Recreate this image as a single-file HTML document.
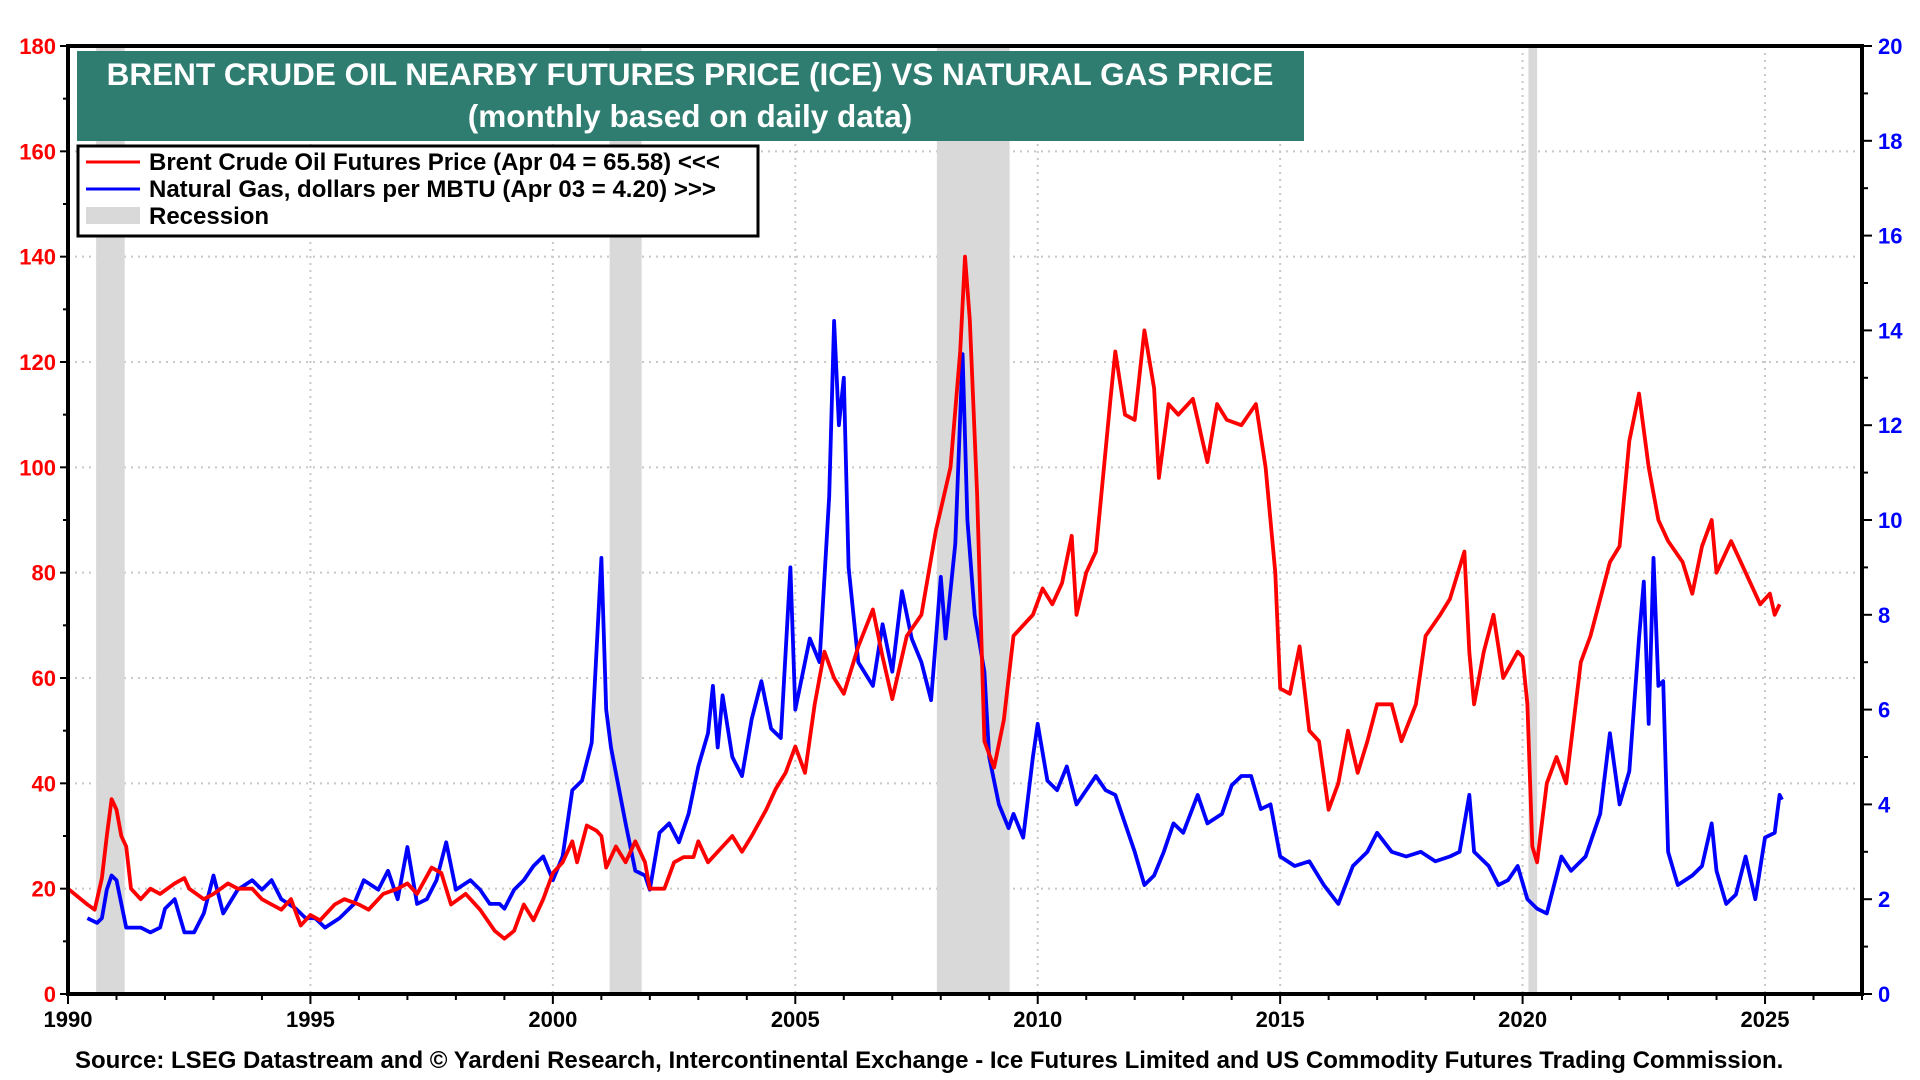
<!DOCTYPE html>
<html><head><meta charset="utf-8"><style>
html,body{margin:0;padding:0;background:#fff;}
svg{display:block;font-family:"Liberation Sans",Arial,sans-serif;}
</style></head><body>
<svg id="chart" width="1920" height="1080" viewBox="0 0 1920 1080" xmlns="http://www.w3.org/2000/svg">
<g id="grid"></g>
<g id="recessions"></g>
<g id="series"></g>
<g id="axes"></g>
<rect x="77" y="51" width="1227" height="90" fill="#2e7d70"/>
<text x="690" y="85" text-anchor="middle" font-size="31.5" font-weight="bold" fill="#fff">BRENT CRUDE OIL NEARBY FUTURES PRICE (ICE) VS NATURAL GAS PRICE</text>
<text x="690" y="127" text-anchor="middle" font-size="31.5" font-weight="bold" fill="#fff">(monthly based on daily data)</text>
<g>
<rect x="78" y="146" width="680" height="90" fill="#fff" stroke="#000" stroke-width="3"/>
<line x1="86" y1="162" x2="140" y2="162" stroke="#f00" stroke-width="3"/>
<text x="149" y="170" font-size="24" font-weight="bold">Brent Crude Oil Futures Price (Apr 04 = 65.58) &lt;&lt;&lt;</text>
<line x1="86" y1="189" x2="140" y2="189" stroke="#00f" stroke-width="3"/>
<text x="149" y="197" font-size="24" font-weight="bold">Natural Gas, dollars per MBTU (Apr 03 = 4.20) &gt;&gt;&gt;</text>
<rect x="86" y="207" width="54" height="17" fill="#d9d9d9"/>
<text x="149" y="224" font-size="24" font-weight="bold">Recession</text>
</g>
<text x="75" y="1068" font-size="24" font-weight="bold">Source: LSEG Datastream and © Yardeni Research, Intercontinental Exchange - Ice Futures Limited and US Commodity Futures Trading Commission.</text>
</svg>
<script>
const recessionStarts=[1990.58,2001.17,2007.92,2020.12];
const recessionEnds=[1991.17,2001.83,2009.42,2020.3];
const xTickYears=[1990,1995,2000,2005,2010,2015,2020,2025];
const leftTicks=[0,20,40,60,80,100,120,140,160,180];
const rightTicks=[0,2,4,6,8,10,12,14,16,18,20];
const oilDates=[1990.0,1990.4,1990.55,1990.7,1990.8,1990.9,1991.0,1991.1,1991.2,1991.3,1991.5,1991.7,1991.9,1992.2,1992.4,1992.5,1992.8,1993.0,1993.3,1993.5,1993.8,1994.0,1994.2,1994.4,1994.6,1994.8,1995.0,1995.2,1995.5,1995.7,1996.0,1996.2,1996.5,1996.8,1997.0,1997.2,1997.5,1997.7,1997.9,1998.2,1998.5,1998.8,1999.0,1999.2,1999.4,1999.6,1999.8,2000.0,2000.2,2000.4,2000.5,2000.7,2000.9,2001.0,2001.1,2001.3,2001.5,2001.7,2001.9,2002.0,2002.3,2002.5,2002.7,2002.9,2003.0,2003.2,2003.5,2003.7,2003.9,2004.1,2004.4,2004.6,2004.8,2005.0,2005.2,2005.4,2005.6,2005.8,2006.0,2006.3,2006.6,2006.8,2007.0,2007.3,2007.6,2007.9,2008.0,2008.2,2008.4,2008.5,2008.6,2008.75,2008.9,2009.1,2009.3,2009.5,2009.7,2009.9,2010.1,2010.3,2010.5,2010.7,2010.8,2011.0,2011.2,2011.5,2011.6,2011.8,2012.0,2012.2,2012.4,2012.5,2012.7,2012.9,2013.2,2013.5,2013.7,2013.9,2014.2,2014.5,2014.7,2014.9,2015.0,2015.2,2015.4,2015.6,2015.8,2016.0,2016.2,2016.4,2016.6,2016.8,2017.0,2017.3,2017.5,2017.8,2018.0,2018.3,2018.5,2018.8,2018.9,2019.0,2019.2,2019.4,2019.6,2019.9,2020.0,2020.1,2020.2,2020.3,2020.5,2020.7,2020.9,2021.2,2021.4,2021.6,2021.8,2022.0,2022.2,2022.4,2022.6,2022.8,2023.0,2023.3,2023.5,2023.7,2023.9,2024.0,2024.3,2024.5,2024.7,2024.9,2025.0,2025.1,2025.2,2025.3];
const oilValues=[20,17,16,22,30,37,35,30,28,20,18,20,19,21,22,20,18,19,21,20,20,18,17,16,18,13,15,14,17,18,17,16,19,20,21,19,24,23,17,19,16,12,10.5,12,17,14,18,23,25,29,25,32,31,30,24,28,25,29,25,20,20,25,26,26,29,25,28,30,27,30,35,39,42,47,42,55,65,60,57,66,73,64,56,68,72,88,92,100,122,140,128,95,48,43,52,68,70,72,77,74,78,87,72,80,84,113,122,110,109,126,115,98,112,110,113,101,112,109,108,112,100,80,58,57,66,50,48,35,40,50,42,48,55,55,48,55,68,72,75,84,65,55,65,72,60,65,64,55,28,25,40,45,40,63,68,75,82,85,105,114,100,90,86,82,76,85,90,80,86,82,78,74,75,76,72,74];
const gasDates=[1990.4,1990.6,1990.7,1990.8,1990.9,1991.0,1991.2,1991.5,1991.7,1991.9,1992.0,1992.2,1992.4,1992.6,1992.8,1993.0,1993.2,1993.5,1993.8,1994.0,1994.2,1994.4,1994.7,1994.9,1995.1,1995.3,1995.6,1995.9,1996.1,1996.4,1996.6,1996.8,1997.0,1997.2,1997.4,1997.6,1997.8,1998.0,1998.3,1998.5,1998.7,1998.9,1999.0,1999.2,1999.4,1999.6,1999.8,2000.0,2000.2,2000.4,2000.6,2000.8,2001.0,2001.1,2001.2,2001.5,2001.7,2001.9,2002.0,2002.2,2002.4,2002.6,2002.8,2003.0,2003.2,2003.3,2003.4,2003.5,2003.7,2003.9,2004.1,2004.3,2004.5,2004.7,2004.9,2005.0,2005.3,2005.5,2005.7,2005.8,2005.9,2006.0,2006.1,2006.3,2006.6,2006.8,2007.0,2007.2,2007.4,2007.6,2007.8,2008.0,2008.1,2008.3,2008.45,2008.55,2008.7,2008.9,2009.0,2009.2,2009.4,2009.5,2009.7,2009.9,2010.0,2010.2,2010.4,2010.6,2010.8,2011.0,2011.2,2011.4,2011.6,2011.8,2012.0,2012.2,2012.4,2012.6,2012.8,2013.0,2013.3,2013.5,2013.8,2014.0,2014.2,2014.4,2014.6,2014.8,2015.0,2015.3,2015.6,2015.9,2016.2,2016.5,2016.8,2017.0,2017.3,2017.6,2017.9,2018.2,2018.5,2018.7,2018.9,2019.0,2019.3,2019.5,2019.7,2019.9,2020.1,2020.3,2020.5,2020.8,2021.0,2021.3,2021.6,2021.8,2022.0,2022.2,2022.4,2022.5,2022.6,2022.7,2022.8,2022.9,2023.0,2023.2,2023.5,2023.7,2023.9,2024.0,2024.2,2024.4,2024.6,2024.8,2025.0,2025.2,2025.3,2025.35];
const gasValues=[1.6,1.5,1.6,2.2,2.5,2.4,1.4,1.4,1.3,1.4,1.8,2.0,1.3,1.3,1.7,2.5,1.7,2.2,2.4,2.2,2.4,2.0,1.8,1.6,1.6,1.4,1.6,1.9,2.4,2.2,2.6,2.0,3.1,1.9,2.0,2.4,3.2,2.2,2.4,2.2,1.9,1.9,1.8,2.2,2.4,2.7,2.9,2.4,2.9,4.3,4.5,5.3,9.2,6.0,5.2,3.6,2.6,2.5,2.2,3.4,3.6,3.2,3.8,4.8,5.5,6.5,5.2,6.3,5.0,4.6,5.8,6.6,5.6,5.4,9.0,6.0,7.5,7.0,10.5,14.2,12.0,13.0,9.0,7.0,6.5,7.8,6.8,8.5,7.5,7.0,6.2,8.8,7.5,9.5,13.5,10.0,8.0,6.8,5.0,4.0,3.5,3.8,3.3,5.0,5.7,4.5,4.3,4.8,4.0,4.3,4.6,4.3,4.2,3.6,3.0,2.3,2.5,3.0,3.6,3.4,4.2,3.6,3.8,4.4,4.6,4.6,3.9,4.0,2.9,2.7,2.8,2.3,1.9,2.7,3.0,3.4,3.0,2.9,3.0,2.8,2.9,3.0,4.2,3.0,2.7,2.3,2.4,2.7,2.0,1.8,1.7,2.9,2.6,2.9,3.8,5.5,4.0,4.7,7.5,8.7,5.7,9.2,6.5,6.6,3.0,2.3,2.5,2.7,3.6,2.6,1.9,2.1,2.9,2.0,3.3,3.4,4.2,4.1];

const NS='http://www.w3.org/2000/svg';
const L=68,R=1862,T=46,B=994,X0=1990,X1=2027;
function xS(y){return L+(y-X0)/(X1-X0)*(R-L);}
function yL(v){return B-v/180*(B-T);}
function yR(v){return B-v/20*(B-T);}
function mk(tag,attrs,parent){const e=document.createElementNS(NS,tag);for(const k in attrs)e.setAttribute(k,attrs[k]);parent.appendChild(e);return e;}
const grid=document.getElementById('grid'),axes=document.getElementById('axes'),rec=document.getElementById('recessions'),ser=document.getElementById('series');

for(const t of leftTicks){if(t===0||t===180)continue;
 const g=mk('line',{x1:L,x2:R,y1:yL(t),y2:yL(t),stroke:'#c8c8c8','stroke-width':2,'stroke-dasharray':'2,5'},grid);
 
 }
for(const yr of xTickYears){if(yr===1990)continue;
 const g=mk('line',{x1:xS(yr),x2:xS(yr),y1:T,y2:B,stroke:'#c8c8c8','stroke-width':2,'stroke-dasharray':'2,5'},grid);
 
 }
for(let i=0;i<recessionStarts.length;i++){
 const r=mk('rect',{x:xS(recessionStarts[i]),y:T,width:xS(recessionEnds[i])-xS(recessionStarts[i]),height:B-T,fill:'#d9d9d9'},rec);
 
 }
const gasPts=gasDates.map((d,i)=>xS(d).toFixed(1)+','+yR(gasValues[i]).toFixed(1)).join(' ');
const gl=mk('polyline',{points:gasPts,fill:'none',stroke:'#0000ff','stroke-width':3.8,'stroke-linejoin':'round'},ser);


const oilPts=oilDates.map((d,i)=>xS(d).toFixed(1)+','+yL(oilValues[i]).toFixed(1)).join(' ');
const ol=mk('polyline',{points:oilPts,fill:'none',stroke:'#ff0000','stroke-width':3.8,'stroke-linejoin':'round'},ser);



const fr=mk('rect',{x:L,y:T,width:R-L,height:B-T,fill:'none',stroke:'#000','stroke-width':4},axes);


for(let v=0;v<=180;v+=10){mk('line',{x1:L-(v%20===0?8:5),x2:L,y1:yL(v),y2:yL(v),stroke:'#000','stroke-width':2},axes);}
for(const t of leftTicks){
 const tx=mk('text',{x:L-12,y:yL(t)+8,'text-anchor':'end','font-size':22,'font-weight':'bold',fill:'#ff0000'},axes);
 tx.textContent=t;
 
 }
for(let v=0;v<=20;v+=1){mk('line',{x1:R,x2:R+(v%2===0?10:6),y1:yR(v),y2:yR(v),stroke:'#000','stroke-width':2},axes);}
for(const t of rightTicks){
 const tx=mk('text',{x:R+16,y:yR(t)+8,'font-size':22,'font-weight':'bold',fill:'#0000ff'},axes);
 tx.textContent=t;
 
 }
for(let y=1990;y<=2027;y++){mk('line',{x1:xS(y),x2:xS(y),y1:B,y2:B+(y%5===0?10:6),stroke:'#000','stroke-width':2},axes);}
for(const yr of xTickYears){
 const tx=mk('text',{x:xS(yr),y:B+33,'text-anchor':'middle','font-size':22,'font-weight':'bold',fill:'#000'},axes);
 tx.textContent=yr;
 
 }
</script>
</body></html>
